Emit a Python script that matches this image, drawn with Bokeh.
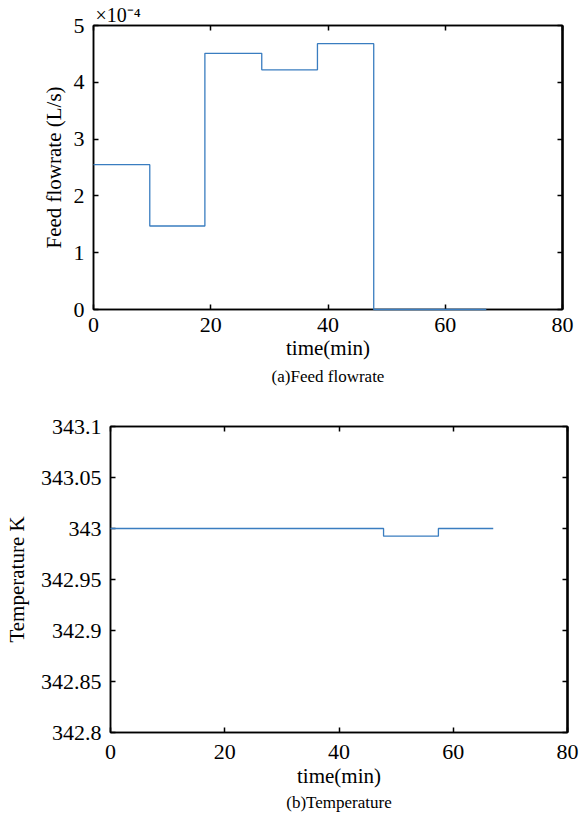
from bokeh.plotting import figure
from bokeh.models import LinearAxis, FixedTicker, CustomJSTickFormatter, Range1d, Title
from bokeh.embed import file_html
from bokeh.resources import INLINE

# ---- data ----
time_edges = [0, 9.6, 19.0, 28.7, 38.2, 47.8, 57.4, 67.0]          # min
feed_flowrate = [2.55e-4, 1.47e-4, 4.51e-4, 4.22e-4, 4.68e-4, 0.0, 0.0]  # L/s
temperature = [343.0, 343.0, 343.0, 343.0, 343.0, 342.9925, 343.0]      # K
x_ticks = [0, 20, 40, 60, 80]
flow_ticks = [0, 1e-4, 2e-4, 3e-4, 4e-4, 5e-4]
temp_ticks = [342.8, 342.85, 342.9, 342.95, 343.0, 343.05, 343.1]

FONT = "Liberation Serif"
LINE = "#3a7dc0"
TICK_FS = "22px"
LABEL_FS = "21px"
CAP_FS = "17px"

blank_fmt = CustomJSTickFormatter(code="return '';")


def style_axis(ax, show_labels=True):
    ax.major_tick_in = 5
    ax.major_tick_out = 0
    ax.minor_tick_line_color = None
    ax.major_tick_line_color = "black"
    ax.major_tick_line_width = 1.5
    ax.axis_line_color = "black"
    ax.axis_line_width = 1.5
    ax.major_label_text_font = FONT
    ax.major_label_text_font_size = TICK_FS
    ax.major_label_text_color = "black"
    ax.axis_label_text_font = FONT
    ax.axis_label_text_font_size = LABEL_FS
    ax.axis_label_text_font_style = "normal"
    ax.axis_label_text_color = "black"
    if not show_labels:
        ax.formatter = blank_fmt
        ax.major_label_standoff = 0
        ax.major_label_text_font_size = "1px"


def make_fig(fw, fh, left, right, top, bottom, x_end, y_start, y_end,
             yticks, yfmt, ylabel, caption, ylab_standoff,
             xtick_standoff, xlab_standoff, cap_standoff):
    p = figure(frame_width=fw, frame_height=fh,
               min_border_left=left, min_border_right=right,
               min_border_top=top, min_border_bottom=bottom,
               x_range=Range1d(0, x_end), y_range=Range1d(y_start, y_end),
               output_backend="svg", toolbar_location=None,
               title=caption, title_location="below")
    p.title.align = "center"
    p.title.text_font = FONT
    p.title.text_font_size = CAP_FS
    p.title.text_font_style = "normal"
    p.title.text_color = "black"
    p.title.standoff = cap_standoff
    p.grid.visible = False
    p.outline_line_color = "black"
    p.outline_line_width = 1.5
    p.background_fill_color = "white"
    p.border_fill_color = "white"

    p.xaxis.ticker = FixedTicker(ticks=x_ticks)
    p.xaxis.axis_label = "time(min)"
    p.xaxis.axis_label_standoff = xlab_standoff
    p.xaxis.major_label_standoff = xtick_standoff
    p.yaxis.ticker = FixedTicker(ticks=yticks)
    p.yaxis.formatter = yfmt
    p.yaxis.axis_label = ylabel
    p.yaxis.major_label_standoff = 9
    p.yaxis.axis_label_standoff = ylab_standoff
    for ax in p.xaxis + p.yaxis:
        style_axis(ax)

    top_ax = LinearAxis(ticker=FixedTicker(ticks=x_ticks))
    right_ax = LinearAxis(ticker=FixedTicker(ticks=yticks))
    style_axis(top_ax, show_labels=False)
    style_axis(right_ax, show_labels=False)
    right_ax.axis_line_width = 2.5
    p.add_layout(top_ax, "above")
    p.add_layout(right_ax, "right")
    return p


flow_fmt = CustomJSTickFormatter(code="return String(Math.round(tick * 1e4));")
temp_fmt = CustomJSTickFormatter(code="return String(parseFloat(tick.toFixed(2)));")

p1 = make_fig(469, 284, 93, 19, 25, 101, 80, 0, 5e-4, flow_ticks, flow_fmt,
              "Feed flowrate (L/s)", "(a)Feed flowrate", 5, 8, 1, 5)
r1 = p1.step(x=time_edges, y=feed_flowrate + [feed_flowrate[-1]], mode="after",
             line_color=LINE, line_width=1.3)
r1.level = "overlay"
p1.add_layout(Title(text="×10⁻⁴", align="left", offset=2, standoff=0,
                    text_font=FONT, text_font_size="20px",
                    text_font_style="normal", text_color="black"), "above")

p2 = make_fig(457, 306, 110, 14, 16, 90, 80, 342.8, 343.1, temp_ticks, temp_fmt,
              "Temperature K", "(b)Temperature", 9, 12, 2, 0)
r2 = p2.step(x=time_edges, y=temperature + [temperature[-1]], mode="after",
             line_color=LINE, line_width=1.3)
r2.level = "overlay"

open("out.html", "w").write(file_html([p1, p2], INLINE))
